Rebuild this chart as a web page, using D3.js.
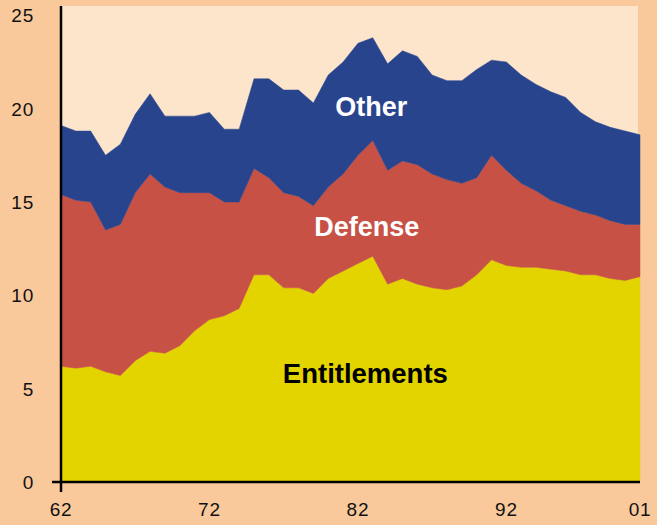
<!DOCTYPE html>
<html>
<head>
<meta charset="utf-8">
<script src="https://cdn.jsdelivr.net/npm/d3@7"></script>
<style>
  body { margin: 0; background: #F9C99C; }
  svg { display: block; }
</style>
</head>
<body>
<div id="chart"></div>
<script>
// Data: spending as % of GDP, 1962-2001
var years = d3.range(1962, 2002);
var entitlements = [6.2,6.1,6.2,5.9,5.7,6.5,7.0,6.9,7.3,8.1,8.7,8.9,9.3,11.1,11.1,10.4,10.4,10.1,10.9,11.3,
                    11.7,12.1,10.6,10.9,10.6,10.4,10.3,10.5,11.1,11.9,11.6,11.5,11.5,11.4,11.3,11.1,11.1,10.9,10.8,11.0];
var defense      = [9.2,9.0,8.8,7.6,8.1,9.0,9.5,8.9,8.2,7.4,6.8,6.1,5.7,5.7,5.2,5.1,4.9,4.7,4.9,5.2,
                    5.8,6.2,6.1,6.3,6.4,6.1,5.9,5.5,5.2,5.6,5.1,4.5,4.1,3.7,3.5,3.4,3.2,3.1,3.0,2.8];
var other        = [3.7,3.7,3.8,4.0,4.3,4.2,4.3,3.8,4.1,4.1,4.3,3.9,3.9,4.8,5.3,5.5,5.7,5.5,6.0,6.0,
                    6.0,5.5,5.7,5.9,5.8,5.3,5.3,5.5,5.8,5.1,5.8,5.8,5.7,5.8,5.8,5.3,5.0,5.0,5.0,4.8];
var seriesNames = ["Entitlements", "Defense", "Other"];
var yTicks = [0, 5, 10, 15, 20, 25];
var xTicks = [1962, 1972, 1982, 1992, 2001];

var W = 657, H = 525;
var colors = {Entitlements: "#E3D400", Defense: "#C85146", Other: "#28448C"};

// table for d3.stack
var table = years.map(function(yr, i) {
  return {year: yr, Entitlements: entitlements[i], Defense: defense[i], Other: other[i]};
});

var svg = d3.select("#chart").append("svg")
  .attr("width", W)
  .attr("height", H);

svg.append("rect").attr("width", W).attr("height", H).attr("fill", "#F9C99C");

var x = d3.scaleLinear().domain([1962, 2001]).range([61, 640]);
var y = d3.scaleLinear().domain([0, 25.5]).range([482, 6]);

// plot background
svg.append("rect")
  .attr("x", x(1962)).attr("y", y(25.5))
  .attr("width", x(2001) - x(1962) - 2)
  .attr("height", y(0) - y(25.5))
  .attr("fill", "#FDE5CB");

var stacked = d3.stack().keys(seriesNames)(table);

var area = d3.area()
  .x(function(d) { return x(d.data.year); })
  .y0(function(d) { return y(d[0]); })
  .y1(function(d) { return y(d[1]); });

svg.selectAll(".layer")
  .data(stacked)
  .enter()
  .append("path")
  .attr("class", "layer")
  .attr("d", area)
  .attr("fill", function(d) { return colors[d.key]; })
  .attr("stroke", function(d) { return colors[d.key]; })
  .attr("stroke-width", 0.5);

// axes lines
svg.append("line")
  .attr("x1", x(1962)).attr("x2", x(1962))
  .attr("y1", y(25.5)).attr("y2", y(0) + 10)
  .attr("stroke", "#000").attr("stroke-width", 2.5);
svg.append("line")
  .attr("x1", x(1962) - 9).attr("x2", x(2001))
  .attr("y1", y(0)).attr("y2", y(0))
  .attr("stroke", "#000").attr("stroke-width", 2.5);

// tick labels
svg.selectAll(".ylab")
  .data(yTicks)
  .enter()
  .append("text")
  .attr("class", "ylab")
  .attr("x", 34)
  .attr("y", function(d) { return y(d); })
  .attr("dy", "0.36em")
  .attr("text-anchor", "end")
  .style("font-family", "'Liberation Sans', Arial, sans-serif")
  .style("font-size", "19px")
  .style("letter-spacing", "0.8px")
  .attr("fill", "#111")
  .text(function(d) { return d; });

svg.selectAll(".xlab")
  .data(xTicks)
  .enter()
  .append("text")
  .attr("class", "xlab")
  .attr("x", function(d) { return x(d); })
  .attr("y", 516)
  .attr("text-anchor", "middle")
  .style("font-family", "'Liberation Sans', Arial, sans-serif")
  .style("font-size", "19px")
  .style("letter-spacing", "0.8px")
  .attr("fill", "#111")
  .text(function(d) { return String(d).slice(2); });

// series labels
var labels = [
  {name: "Other",        year: 1982.9, value: 19.6, size: 27,   color: "#fff"},
  {name: "Defense",      year: 1982.6, value: 13.2, size: 27,   color: "#fff"},
  {name: "Entitlements", year: 1982.5, value: 5.3,  size: 27.5, color: "#000"}
];
svg.selectAll(".slab")
  .data(labels)
  .enter()
  .append("text")
  .attr("class", "slab")
  .attr("x", function(d) { return x(d.year); })
  .attr("y", function(d) { return y(d.value); })
  .attr("text-anchor", "middle")
  .style("font-family", "'Liberation Sans', Arial, sans-serif")
  .style("font-size", function(d) { return d.size + "px"; })
  .style("font-weight", "bold")
  .attr("fill", function(d) { return d.color; })
  .text(function(d) { return d.name; });
</script>
</body>
</html>
